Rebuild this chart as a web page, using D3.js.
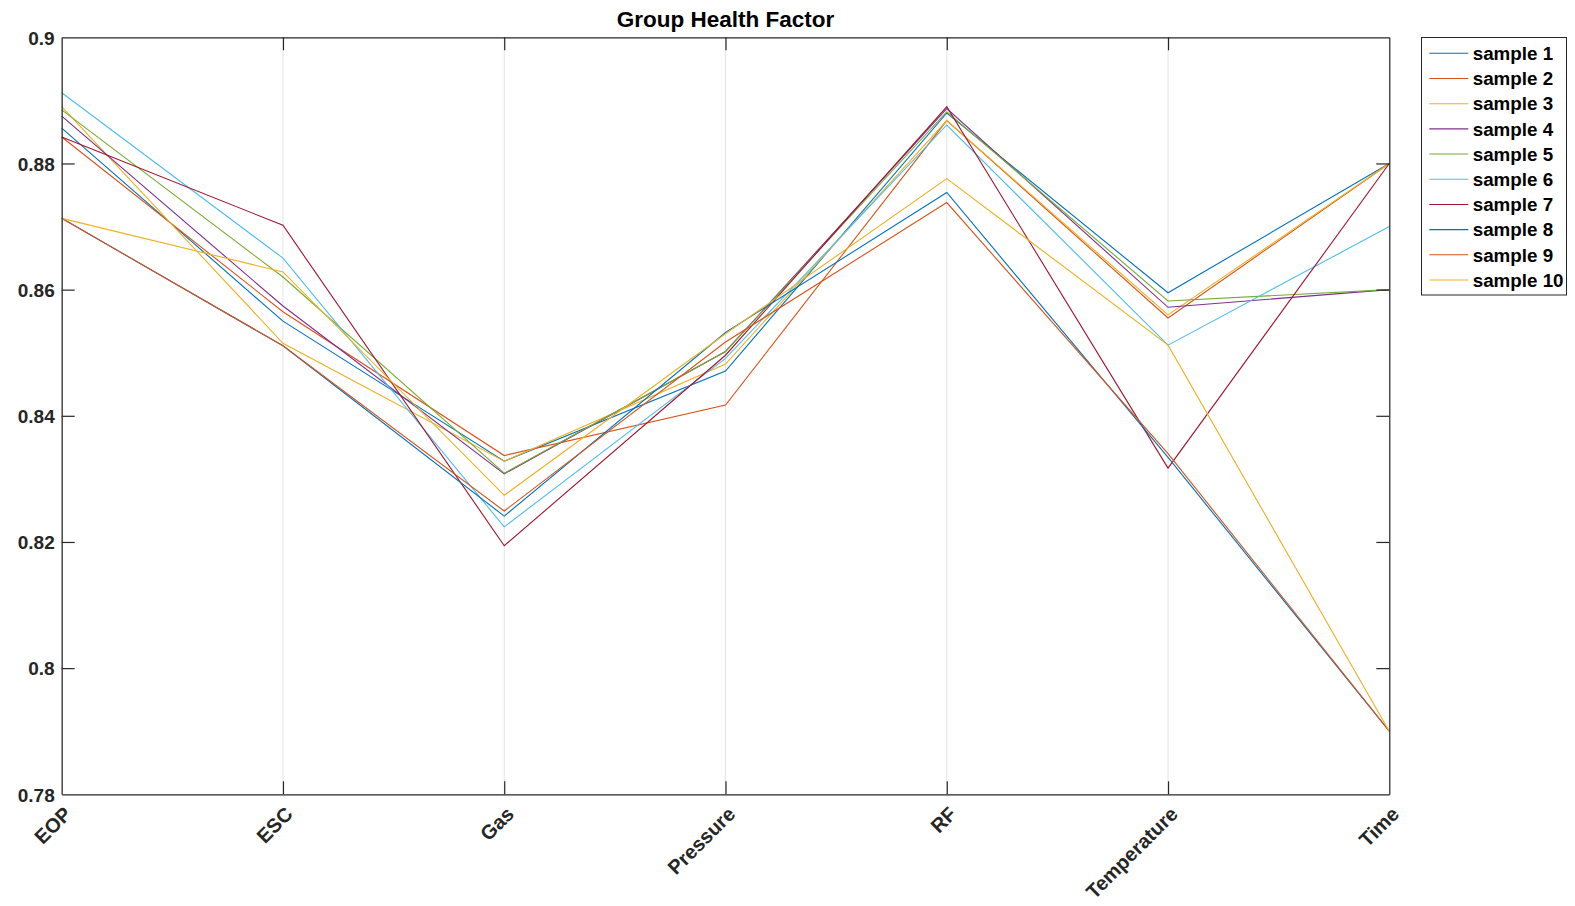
<!DOCTYPE html>
<html>
<head>
<meta charset="utf-8">
<script src="https://cdn.jsdelivr.net/npm/d3@7"></script>
<style>
  html, body { margin: 0; padding: 0; background: #ffffff; }
  svg { display: block; }
  text { font-family: "Liberation Sans", Arial, Helvetica, sans-serif; font-weight: bold; }
</style>
</head>
<body>
<svg id="chart" width="1575" height="906"></svg>
<script>
// ---- data ----
const categories = ["EOP", "ESC", "Gas", "Pressure", "RF", "Temperature", "Time"];
const seriesNames = ["sample 1", "sample 2", "sample 3", "sample 4", "sample 5",
                     "sample 6", "sample 7", "sample 8", "sample 9", "sample 10"];
const sample1  = [0.8856, 0.8550, 0.8328, 0.8471, 0.8880, 0.8595, 0.88];
const sample2  = [0.8842, 0.8565, 0.8337, 0.8417, 0.8868, 0.8555, 0.88];
const sample3  = [0.8890, 0.8515, 0.8328, 0.8482, 0.8868, 0.8560, 0.88];
const sample4  = [0.8875, 0.8574, 0.8308, 0.8502, 0.8887, 0.8572, 0.86];
const sample5  = [0.8885, 0.8620, 0.8309, 0.8502, 0.8882, 0.8582, 0.86];
const sample6  = [0.8912, 0.8650, 0.8224, 0.8491, 0.8861, 0.8512, 0.87];
const sample7  = [0.8842, 0.8702, 0.8194, 0.8496, 0.8890, 0.8317, 0.88];
const sample8  = [0.8713, 0.8511, 0.8241, 0.8532, 0.8754, 0.8334, 0.79];
const sample9  = [0.8713, 0.8511, 0.8249, 0.8517, 0.8738, 0.8340, 0.79];
const sample10 = [0.8713, 0.8628, 0.8274, 0.8530, 0.8776, 0.8512, 0.79];
const seriesValues = [sample1, sample2, sample3, sample4, sample5,
                      sample6, sample7, sample8, sample9, sample10];
const yTicks = [0.78, 0.80, 0.82, 0.84, 0.86, 0.88, 0.90];
const yTickLabels = ["0.78", "0.8", "0.82", "0.84", "0.86", "0.88", "0.9"];
const colors = ["#0072BD", "#D95319", "#EDB120", "#7E2F8E", "#77AC30",
                "#4DBEEE", "#A2142F", "#0072BD", "#D95319", "#EDB120"];
const titleText = "Group Health Factor";

// ---- layout ----
const svg = d3.select("#chart");
const pLeft = 61.7, pRight = 1389.3, pTop = 37.3, pBottom = 794.3;
const axisColor = "#262626";

const x = d3.scalePoint().domain(categories).range([pLeft, pRight]);
const y = d3.scaleLinear().domain([0.78, 0.90]).range([pBottom, pTop]);

// grid lines
svg.append("g").selectAll("line").data(categories).join("line")
  .attr("x1", d => x(d)).attr("x2", d => x(d))
  .attr("y1", pTop).attr("y2", pBottom)
  .attr("stroke", "#e3e3e3").attr("stroke-width", 1);

// lines
const lineGen = d3.line().x((d, i) => x(categories[i])).y(d => y(d));
svg.append("g").selectAll("path").data(seriesValues).join("path")
  .attr("d", d => lineGen(d))
  .attr("fill", "none")
  .attr("stroke", (d, i) => colors[i])
  .attr("stroke-width", 1.1);

// axes box
const tickLen = 13;
const yAxisL = d3.axisLeft(y).tickValues(yTicks).tickFormat((d, i) => yTickLabels[i])
  .tickSizeInner(-tickLen).tickSizeOuter(0).tickPadding(7);
const gL = svg.append("g").attr("transform", `translate(${pLeft},0)`).call(yAxisL);
const yAxisR = d3.axisRight(y).tickValues(yTicks).tickFormat("")
  .tickSizeInner(-tickLen).tickSizeOuter(0);
const gR = svg.append("g").attr("transform", `translate(${pRight},0)`).call(yAxisR);
const xAxisB = d3.axisBottom(x).tickSizeInner(-tickLen).tickSizeOuter(0).tickFormat("");
const gB = svg.append("g").attr("transform", `translate(0,${pBottom})`).call(xAxisB);
const xAxisT = d3.axisTop(x).tickSizeInner(-tickLen).tickSizeOuter(0).tickFormat("");
const gT = svg.append("g").attr("transform", `translate(0,${pTop})`).call(xAxisT);

[gL, gR, gB, gT].forEach(g => {
  g.selectAll(".domain").attr("stroke", axisColor).attr("stroke-width", 1.2);
  g.selectAll(".tick line").attr("stroke", axisColor).attr("stroke-width", 1.2);
});
gL.selectAll(".tick text")
  .attr("fill", axisColor)
  .style("font-size", "19px")
  .style("font-family", '"Liberation Sans", Arial, sans-serif')
  .style("font-weight", "bold")
  .attr("dy", "0.36em");
gB.selectAll(".tick").filter((d, i) => i === 0 || i === categories.length - 1).select("line").remove();
gT.selectAll(".tick").filter((d, i) => i === 0 || i === categories.length - 1).select("line").remove();
gL.selectAll(".tick").filter(d => d === 0.78 || d === 0.90).select("line").remove();
gR.selectAll(".tick").filter(d => d === 0.78 || d === 0.90).select("line").remove();

// x tick labels rotated
svg.append("g").selectAll("text").data(categories).join("text")
  .attr("transform", d => `translate(${x(d) + 11},${pBottom + 21}) rotate(-45)`)
  .attr("text-anchor", "end")
  .attr("fill", axisColor)
  .style("font-size", "20px")
  .text(d => d);

// title
svg.append("text")
  .attr("x", (pLeft + pRight) / 2).attr("y", 27)
  .attr("text-anchor", "middle")
  .attr("fill", "#000")
  .style("font-size", "22.5px")
  .text(titleText);

// legend
const lg = svg.append("g");
lg.append("rect")
  .attr("x", 1421.5).attr("y", 37.5).attr("width", 145).attr("height", 257.5)
  .attr("fill", "#fff").attr("stroke", axisColor).attr("stroke-width", 1);
const rowY = d3.scalePoint().domain(seriesNames).range([53.3, 280]);
const rows = lg.selectAll("g.row").data(seriesNames).join("g").attr("class", "row")
  .attr("transform", d => `translate(0,${rowY(d)})`);
rows.append("line")
  .attr("x1", 1429.3).attr("x2", 1468.3).attr("y1", 0).attr("y2", 0)
  .attr("stroke", (d, i) => colors[i]).attr("stroke-width", 1.1);
rows.append("text")
  .attr("x", 1472.7).attr("y", 0).attr("dy", "0.36em")
  .attr("fill", "#000")
  .style("font-size", "18.8px")
  .text(d => d);
</script>
</body>
</html>
